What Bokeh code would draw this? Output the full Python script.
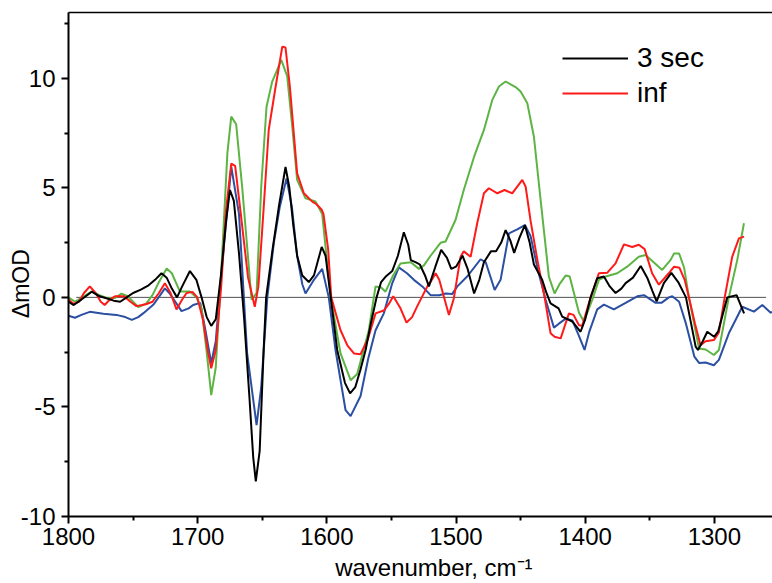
from bokeh.plotting import figure
from bokeh.models import Range1d, FixedTicker, Legend, LegendItem, LinearAxis
from bokeh.embed import file_html
from bokeh.resources import INLINE

# ---------------- data ----------------
black_x = [1800, 1796, 1790, 1782, 1776, 1770, 1765, 1760, 1755, 1750, 1744, 1738, 1733, 1728, 1724, 1720,
           1716, 1712, 1706, 1701, 1697, 1693, 1689.5, 1686, 1682, 1678, 1675, 1672, 1668, 1664, 1660, 1657,
           1655, 1652, 1649, 1647, 1642, 1637, 1632, 1629, 1626, 1623, 1619, 1614, 1610, 1604, 1601, 1597,
           1592, 1586, 1582, 1578, 1574, 1570, 1566, 1561.5, 1558, 1554.6, 1549.4, 1545, 1540.4, 1537, 1535,
           1531, 1528, 1524, 1521, 1516, 1511.5, 1507, 1503.7, 1500, 1495, 1491, 1486, 1482, 1478.4, 1473,
           1469, 1465, 1461.6, 1458, 1455, 1451, 1446.7, 1443, 1439.7, 1433.3, 1430, 1426.8, 1420.6, 1417.8,
           1410, 1403.6, 1400, 1395.8, 1390.7, 1385.5, 1381, 1376.5, 1372, 1368.7, 1363, 1357, 1352, 1348,
           1344.7, 1339.1, 1333.3, 1328, 1322, 1318, 1314.5, 1312.7, 1309, 1305.5, 1300.2, 1297, 1290,
           1282.8, 1277]
black_y = [-0.2, -0.35, -0.1, 0.26, 0.05, -0.05, -0.15, -0.2, 0.0, 0.2, 0.35, 0.55, 0.8, 1.1, 0.9, 0.4,
           0.0, 0.5, 1.2, 0.8, 0.0, -0.9, -1.3, -1.0, 1.0, 3.5, 4.9, 4.4, 2.0, -1.0, -4.5, -7.3,
           -8.4, -7.0, -2.5, 0.0, 2.2, 4.2, 5.95, 5.0, 3.3, 1.9, 1.0, 0.7, 1.0, 2.3, 1.9, 0.0,
           -2.4, -3.9, -4.38, -4.1, -3.3, -2.4, -1.2, 0.0, 0.7, 0.94, 1.2, 1.9, 2.97, 2.4, 1.7,
           1.6, 1.5, 1.0, 0.5, 1.4, 2.17, 1.8, 1.3, 1.4, 1.9, 1.3, 0.18, 0.8, 1.6, 2.1,
           2.1, 2.5, 3.07, 2.6, 2.03, 2.7, 3.3, 2.5, 1.5, 0.8, 0.2, -0.27, -0.5, -0.88,
           -1.1, -1.57, -1.0, 0.0, 0.87, 0.95, 0.5, 0.2, 0.4, 0.65, 0.9, 1.43, 0.9, 0.3,
           -0.18, 0.65, 1.12, 0.7, 0.0, -1.2, -2.25, -2.4, -2.0, -1.57, -1.8, -1.55, 0.0,
           0.1, -0.73]

red_x = [1800, 1796, 1792, 1788, 1783.5, 1779, 1775, 1772, 1768, 1764, 1757, 1752, 1747.4, 1743, 1739.6,
         1735, 1730, 1725.4, 1721, 1716.4, 1712, 1708.6, 1704, 1700.3, 1696, 1692, 1689.5, 1686, 1681.8,
         1678, 1674, 1671, 1666.8, 1661, 1655.8, 1653, 1649, 1645, 1639.7, 1634.5, 1632, 1628.6, 1623,
         1617.8, 1611.3, 1608, 1604, 1602.6, 1599, 1596.6, 1589.4, 1584, 1579, 1574, 1568.2, 1562.3,
         1555.9, 1552, 1548.6, 1543, 1538.3, 1534, 1530, 1521, 1519.7, 1515.8, 1513, 1505.5, 1501.7,
         1496.5, 1494, 1488.7, 1483.6, 1478.4, 1474.6, 1468, 1462.4, 1456.5, 1448.7, 1446.1, 1442.3,
         1437, 1431.4, 1426.8, 1423.7, 1419, 1412.6, 1409, 1404.8, 1402.3, 1395.8, 1389.4, 1383, 1376.5,
         1370, 1363.6, 1358.5, 1354, 1348.2, 1343, 1335.3, 1331.2, 1327, 1323, 1319.7, 1315, 1310.7,
         1306.8, 1300.4, 1296.5, 1292, 1286.2, 1281, 1277]
red_y = [-0.1, -0.3, -0.2, 0.2, 0.5, 0.2, -0.2, -0.35, -0.1, 0.05, 0.05, -0.2, -0.4, -0.35, -0.3,
         -0.2, 0.2, 0.64, 0.2, -0.55, -0.1, 0.2, 0.25, 0.0, -1.0, -2.5, -3.24, -2.4, 0.5,
         4.0, 6.1, 6.0, 3.9, 0.9, -0.43, 0.5, 4.0, 7.64, 9.6, 11.44, 11.4, 9.6, 5.66,
         4.75, 4.37, 4.25, 4.0, 3.8, 2.2, 0.0, -1.5, -2.2, -2.56, -2.6, -1.9, -0.73,
         -0.6, -0.3, 0.05, -0.5, -1.15, -0.9, -0.4, 0.64, 0.7, 1.1, 0.8, -0.8, -0.05,
         1.85, 2.1, 1.85, 3.38, 4.75, 4.98, 4.75, 4.9, 4.75, 5.36, 5.05, 3.5,
         1.7, 0.0, -1.64, -1.8, -1.87, -0.73, -0.8, -1.27, -1.3, 0.0, 1.1, 1.12, 1.55,
         2.42, 2.3, 2.4, 2.2, 1.1, 0.58, 1.1, 1.4, 1.35, 0.8, 0.0, -1.2, -2.18,
         -2.0, -1.95, -1.6, 0.0, 1.85, 2.69, 2.77]

green_x = [1800, 1795, 1788, 1782, 1776, 1770.6, 1764, 1759, 1754, 1750, 1746, 1740, 1735, 1730.5, 1724,
           1720, 1713.8, 1706, 1701, 1697, 1693, 1689.5, 1686, 1681, 1677, 1674, 1670.2, 1665.5, 1658.3,
           1654.4, 1650.8, 1646.7, 1642.3, 1639, 1635.3, 1630.7, 1626.8, 1623, 1616.5, 1608.8, 1603.6,
           1597, 1589.4, 1581.6, 1576.5, 1567.5, 1562.3, 1558, 1554.6, 1548.7, 1543, 1535, 1528.7, 1525,
           1519.7, 1512, 1508.1, 1500.4, 1494, 1486, 1478.4, 1472, 1466.8, 1461.6, 1453.9, 1450, 1444.8,
           1439.7, 1434.5, 1428.1, 1423.7, 1419.6, 1415, 1412, 1404.8, 1401, 1394.5, 1389.4, 1384.2,
           1375.2, 1367.5, 1358.5, 1353.3, 1347, 1340.4, 1334, 1331.2, 1327.3, 1323.4, 1319.7, 1311.9,
           1306.8, 1300.4, 1296.5, 1288.8, 1282.3, 1277.1]
green_y = [0.0, -0.2, 0.05, 0.27, 0.1, -0.03, -0.03, 0.17, 0.05, -0.2, -0.44, -0.3, 0.1, 0.64, 1.32,
           1.1, 0.27, 0.27, 0.0, -0.5, -2.5, -4.46, -3.2, 2.0, 6.58, 8.25, 7.9, 5.0, -0.1,
           0.2, 5.05, 8.7, 9.85, 10.3, 10.84, 10.1, 7.8, 5.36, 4.52, 4.38, 3.8,
           0.0, -2.56, -3.78, -3.5, -1.5, 0.5, 0.45, 0.26, 1.0, 1.55, 1.6, 1.3, 1.45,
           1.9, 2.49, 2.55, 3.53, 4.9, 6.42, 7.64, 9.0, 9.62, 9.85, 9.6, 9.39, 8.86,
           7.33, 4.44, 0.94, 0.18, 0.63, 1.0, 0.95, -0.7, -1.1, -0.1, 0.8, 0.95,
           1.1, 1.4, 1.85, 1.93, 1.6, 1.25, 1.7, 2.0, 2.0, 1.35, 0.0, -2.33,
           -2.38, -2.63, -2.4, 0.0, 1.7, 3.38]

blue_x = [1800, 1795, 1790, 1783.5, 1773, 1763, 1756, 1751, 1746, 1742, 1734.4, 1729, 1725.4, 1722, 1719,
          1712.5, 1707, 1703.5, 1698, 1694, 1689.5, 1686, 1681, 1674, 1668, 1661.7, 1654.4, 1650.8,
          1646.1, 1641, 1636.4, 1631.2, 1627, 1623, 1619, 1616.5, 1610, 1603.6, 1598.5, 1593.3, 1585.5,
          1581.6, 1573.9, 1568, 1562.3, 1555.9, 1549.4, 1544.3, 1538, 1532.6, 1526.1, 1519.7, 1513, 1508,
          1503, 1499, 1491.4, 1481, 1477, 1470.1, 1465.5, 1459, 1452.6, 1446.7, 1442.3, 1436.6, 1430.7,
          1424.2, 1420.4, 1415, 1410, 1405, 1400.5, 1397, 1390.7, 1385.5, 1377.8, 1368.7, 1359.7, 1354.5,
          1345.5, 1341, 1335.2, 1332.6, 1327.3, 1322, 1315.5, 1311.7, 1306.8, 1300.4, 1296.5, 1288.8,
          1278.4, 1269.4, 1262.9, 1256.4, 1250]
blue_y = [-0.84, -0.93, -0.8, -0.66, -0.75, -0.8, -0.9, -1.03, -0.9, -0.72, -0.34, 0.1, 0.41, 0.2, -0.05,
          -0.63, -0.5, -0.35, -0.25, -1.5, -3.0, -2.0, 1.5, 5.97, 3.8, -2.56, -5.83, -4.1,
          0.0, 2.5, 4.14, 5.43, 4.1, 1.9, 0.6, 0.18, 0.8, 1.3, 0.0, -2.4, -5.15,
          -5.42, -4.5, -2.8, -1.5, -0.73, 0.64, 1.37, 1.1, 0.8, 0.5, 0.1, 0.1, 0.18,
          0.15, 0.5, 0.95, 1.74, 1.6, 0.34, 0.8, 2.92, 3.1, 3.3, 2.8, 1.25, -0.1,
          -1.38, -1.2, -0.97, -1.05, -1.73, -2.4, -1.6, -0.55, -0.33, -0.55, -0.25, 0.05, 0.1,
          -0.25, -0.25, 0.0, 0.05, -0.2, -1.2, -2.7, -3.0, -2.97, -3.1, -2.85, -1.64,
          -0.43, -0.65, -0.35, -0.7, -0.5]

zero_x = [1794, 1260]
zero_y = [0, 0]

x_major = [1800, 1700, 1600, 1500, 1400, 1300]
x_minor = [1750, 1650, 1550, 1450, 1350, 1250]
y_major = [-10, -5, 0, 5, 10]
y_major_labels = ["-10", "-5", "0", "5", "10"]
y_minor = [-7.5, -2.5, 2.5, 7.5, 12.5]

legend_labels = ["3 sec", "inf"]
NBSP = "\u00a0"
x_title = NBSP * 4 + "wavenumber, cm\u207b\u00b9"
y_title = "\u0394mOD" + NBSP * 6

FONT = "Liberation Sans"

p = figure(width=772, height=583, output_backend="svg", toolbar_location=None,
           x_range=Range1d(1800, 1255), y_range=Range1d(-10, 13),
           min_border_left=68, min_border_right=0, min_border_top=12, min_border_bottom=67,
           title=None)
p.xgrid.visible = False
p.ygrid.visible = False
p.outline_line_color = None
p.background_fill_color = "white"
p.border_fill_color = "white"

for ax, maj, mnr in [(p.xaxis[0], x_major, x_minor), (p.yaxis[0], y_major, y_minor)]:
    ax.ticker = FixedTicker(ticks=maj, minor_ticks=mnr)
    ax.axis_line_width = 2
    ax.axis_line_color = "black"
    ax.major_tick_line_width = 2
    ax.minor_tick_line_width = 2
    ax.major_tick_in = 0
    ax.major_tick_out = 7
    ax.minor_tick_in = 0
    ax.minor_tick_out = 4
    ax.major_label_text_font = FONT
    ax.major_label_text_font_size = "24px"
    ax.major_label_text_color = "black"
    ax.axis_label_text_font = FONT
    ax.axis_label_text_font_size = "23px"
    ax.axis_label_text_font_style = "normal"
    ax.axis_label_text_color = "black"
p.yaxis[0].major_label_overrides = {v: s for v, s in zip(y_major, y_major_labels)}
p.xaxis[0].major_label_standoff = 4
p.yaxis[0].major_label_standoff = 6
p.xaxis[0].axis_label = x_title
p.xaxis[0].axis_label_standoff = 6
p.xaxis[0].axis_label_text_font_size = "24px"
p.yaxis[0].axis_label = y_title
p.yaxis[0].axis_label_standoff = -16

top = LinearAxis(ticker=FixedTicker(ticks=[]), axis_line_width=1.5, axis_line_color="black",
                 major_tick_line_color=None, minor_tick_line_color=None,
                 major_label_text_font_size="0px", major_label_standoff=0,
                 major_tick_out=0, minor_tick_out=0)
p.add_layout(top, "above")

p.line(zero_x, zero_y, line_color="#505050", line_width=1)

r_blue = p.line(blue_x, blue_y, line_color="#2B4FA2", line_width=2)
r_green = p.line(green_x, green_y, line_color="#5DB444", line_width=2)
r_red = p.line(red_x, red_y, line_color="#FF1A1A", line_width=2)
r_black = p.line(black_x, black_y, line_color="black", line_width=2)

legend = Legend(items=[LegendItem(label=legend_labels[0], renderers=[r_black]),
                       LegendItem(label=legend_labels[1], renderers=[r_red])],
                location=(494, 407), border_line_color=None, background_fill_alpha=0,
                padding=0, margin=0, spacing=3, glyph_width=66, glyph_height=30,
                label_height=30, label_standoff=9, label_text_font=FONT,
                label_text_font_size="28px", label_text_color="black")
p.add_layout(legend)

open("out.html", "w").write(file_html(p, INLINE))
